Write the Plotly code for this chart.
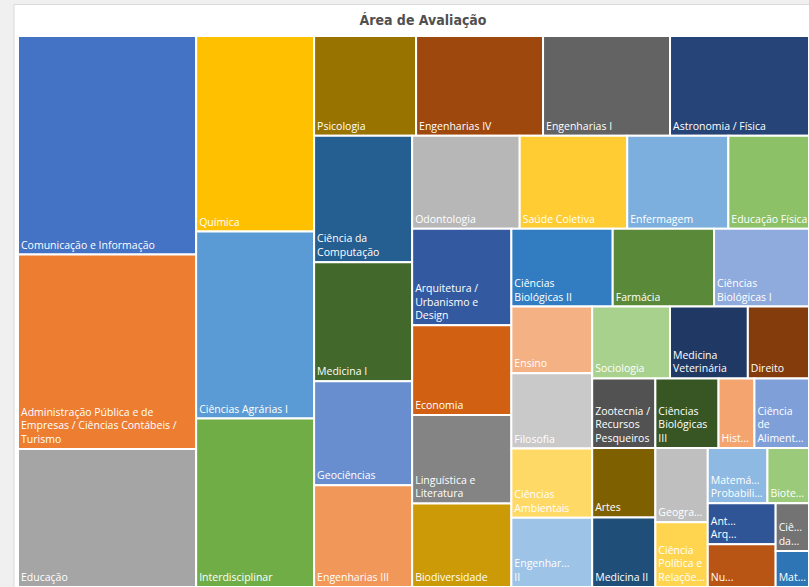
import plotly.graph_objects as go

areas = [
    "Comunicação e Informação",
    "Administração Pública e de Empresas / Ciências Contábeis / Turismo",
    "Educação",
    "Química",
    "Ciências Agrárias I",
    "Interdisciplinar",
    "Psicologia",
    "Engenharias IV",
    "Engenharias I",
    "Astronomia / Física",
    "Ciência da Computação",
    "Medicina I",
    "Geociências",
    "Engenharias III",
    "Odontologia",
    "Saúde Coletiva",
    "Enfermagem",
    "Educação Física",
    "Arquitetura / Urbanismo e Design",
    "Economia",
    "Linguística e Literatura",
    "Biodiversidade",
    "Ciências Biológicas II",
    "Farmácia",
    "Ciências Biológicas I",
    "Ensino",
    "Filosofia",
    "Ciências Ambientais",
    "Engenharias II",
    "Sociologia",
    "Medicina Veterinária",
    "Direito",
    "Zootecnia / Recursos Pesqueiros",
    "Artes",
    "Medicina II",
    "Ciências Biológicas III",
    "História",
    "Ciência de Alimentos",
    "Geografia",
    "Ciência Política e Relações Internacionais",
    "Matemática / Probabilidade e Estatística",
    "Biotecnologia",
    "Antropologia / Arqueologia",
    "Nutrição",
    "Ciências da Religião e Teologia",
    "Materiais",
]

valores = [
    390, 347, 246,
    231, 221, 199,
    102, 127, 127, 139,
    124, 117, 102, 100,
    100, 100, 94, 75,
    96, 89, 88, 83,
    79, 79, 74,
    54, 61, 56, 56,
    56, 56, 44,
    44, 44, 44,
    44, 25, 38,
    39, 34,
    33, 23,
    28, 29,
    16, 12,
]

# rótulos como aparecem no visual (quebras e reticências)
rotulos = [
    "Comunicação e Informação",
    "Administração Pública e de<br>Empresas / Ciências Contábeis /<br>Turismo",
    "Educação",
    "Química",
    "Ciências Agrárias I",
    "Interdisciplinar",
    "Psicologia",
    "Engenharias IV",
    "Engenharias I",
    "Astronomia / Física",
    "Ciência da<br>Computação",
    "Medicina I",
    "Geociências",
    "Engenharias III",
    "Odontologia",
    "Saúde Coletiva",
    "Enfermagem",
    "Educação Física",
    "Arquitetura /<br>Urbanismo e<br>Design",
    "Economia",
    "Linguística e<br>Literatura",
    "Biodiversidade",
    "Ciências<br>Biológicas II",
    "Farmácia",
    "Ciências<br>Biológicas I",
    "Ensino",
    "Filosofia",
    "Ciências<br>Ambientais",
    "Engenhar...<br>II",
    "Sociologia",
    "Medicina<br>Veterinária",
    "Direito",
    "Zootecnia /<br>Recursos<br>Pesqueiros",
    "Artes",
    "Medicina II",
    "Ciências<br>Biológicas<br>III",
    "Hist...",
    "Ciência<br>de<br>Aliment...",
    "Geogra...",
    "Ciência<br>Política e<br>Relaçõe...",
    "Matemá...<br>Probabili...",
    "Biote...",
    "Ant...<br>Arq...",
    "Nu...",
    "Ciê...<br>da...",
    "Mat...",
]

cores = [
    "#4472C4", "#ED7D31", "#A5A5A5",
    "#FFC000", "#5B9BD5", "#70AD47",
    "#997300", "#9E480E", "#636363", "#264478",
    "#255E91", "#43682B", "#698ED0", "#F1975A",
    "#B7B7B7", "#FFCD33", "#7CAFDD", "#8CC168",
    "#335AA1", "#D26012", "#848484", "#CC9A06",
    "#327DC2", "#5A8A39", "#8FAADC",
    "#F4B183", "#C9C9C9", "#FFD966", "#9DC3E6",
    "#A9D18E", "#203864", "#843C0C",
    "#525252", "#7F6000", "#1F4E79",
    "#375623", "#F4A46F", "#7F9FD9",
    "#BFBFBF", "#FFD54F",
    "#8DB9E2", "#9BCB7A",
    "#2F5597", "#B95514",
    "#737373", "#2E75B6",
]

W, H = 809, 587

fig = go.Figure(go.Treemap(
    labels=areas,
    parents=[""] * len(areas),
    values=valores,
    text=rotulos,
    textinfo="text",
    textposition="bottom left",
    sort=False,
    marker=dict(colors=cores, line=dict(color="white", width=2),
                pad=dict(t=0, l=0, r=0, b=0)),
    tiling=dict(packing="squarify", squarifyratio=1, pad=0),
    textfont=dict(family="Open Sans", size=10.5, color="white"),
    hovertemplate="%{label}: %{value}<extra></extra>",
    pathbar=dict(visible=False),
    domain=dict(x=[18 / W, 1], y=[0, 1 - 36 / H]),
))

fig.update_layout(
    width=W, height=H,
    margin=dict(l=0, r=0, t=0, b=0),
    paper_bgcolor="#f0f0f0",
    title=dict(text="<b>Área de Avaliação</b>", x=423 / W, xanchor="center",
               y=1 - 20 / H, yanchor="middle",
               font=dict(family="DejaVu Sans Condensed", size=14, color="#505050")),
    shapes=[dict(type="rect", xref="paper", yref="paper", layer="below",
                 x0=14 / W, x1=1.01, y0=-0.01, y1=1 - 4.5 / H,
                 fillcolor="white", line=dict(color="#d9d9d9", width=1))],
    uniformtext=dict(minsize=10.5, mode="show"),
)

fig.write_html("out.html", config={"displayModeBar": False},
               post_script="document.body.style.margin='0';document.body.style.background='#f0f0f0';")
